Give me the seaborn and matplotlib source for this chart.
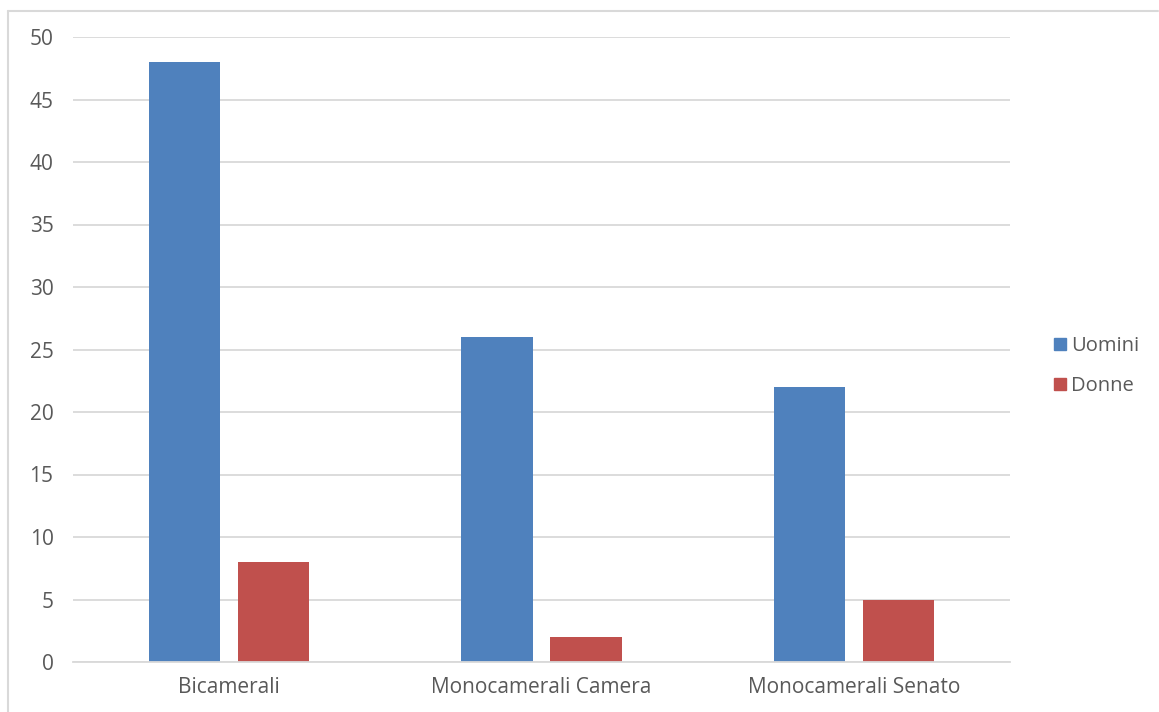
import numpy as np
import pandas as pd
import matplotlib.pyplot as plt
from matplotlib.lines import Line2D
import seaborn as sns

categories = ["Bicamerali", "Monocamerali Camera", "Monocamerali Senato"]
uomini = [48, 26, 22]
donne = [8, 2, 5]
series = ["Uomini", "Donne"]
colors = ["#4F81BD", "#C0504D"]
yticks = [0, 5, 10, 15, 20, 25, 30, 35, 40, 45, 50]

df = pd.DataFrame({
    "cat": categories * 2,
    "val": uomini + donne,
    "serie": ["Uomini"] * 3 + ["Donne"] * 3,
})

sns.set_style("white")
plt.rcParams['font.family'] = ['Open Sans', 'DejaVu Sans']

W, H = 1159, 712
fig = plt.figure(figsize=(W / 100, H / 100), dpi=100)
ax = fig.add_axes([73 / W, 1 - 662 / H, (1010 - 73) / W, (662 - 37) / H])

sns.barplot(data=df, x="cat", y="val", hue="serie", hue_order=series,
            palette=colors, width=0.57, gap=0.2, saturation=1,
            edgecolor="none", ax=ax, legend=False)

ax.set_ylim(0, 50)
ax.set_xlim(-0.5, 2.5)
ax.set_yticks(yticks)
ax.yaxis.grid(True, color="#D9D9D9", linewidth=1.3)
ax.set_axisbelow(True)
for s in ["top", "right", "left"]:
    ax.spines[s].set_visible(False)
ax.spines["bottom"].set_color("#D9D9D9")
ax.spines["bottom"].set_linewidth(1.3)
ax.tick_params(axis="both", length=0, labelsize=15, labelcolor="#595959")
ax.tick_params(axis="y", pad=14)
ax.tick_params(axis="x", pad=11)
ax.set_xlabel("")
ax.set_ylabel("")

handles = [Line2D([], [], marker="s", linestyle="none", markersize=9,
                  markerfacecolor=c, markeredgecolor=c) for c in colors]
fig.legend(handles, series, loc="center left",
           bbox_to_anchor=(1034 / W, 1 - 366 / H), frameon=False,
           fontsize=14.5, labelcolor="#595959", handlelength=0.8,
           handletextpad=0.15, labelspacing=1.0)

# outer chart frame (left and top edges visible)
fig.add_artist(Line2D([8 / W, 8 / W], [0, 1 - 11 / H], transform=fig.transFigure,
                      color="#D9D9D9", linewidth=1.5))
fig.add_artist(Line2D([8 / W, 1158 / W], [1 - 11 / H, 1 - 11 / H],
                      transform=fig.transFigure, color="#D9D9D9", linewidth=1.5))

fig.savefig("out.png", dpi=100)
